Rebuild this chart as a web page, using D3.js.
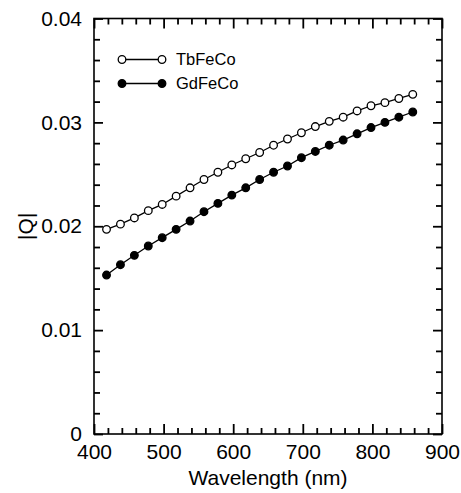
<!DOCTYPE html>
<html>
<head>
<meta charset="utf-8">
<script src="https://cdn.jsdelivr.net/npm/d3@7"></script>
<style>
  body { margin: 0; background: #fff; }
  svg { display: block; font-family: "Liberation Sans", Arial, sans-serif; }
</style>
</head>
<body>
<div id="chart"></div>
<script>
"use strict";

// wavelength of each sample (nm)
const wavelengths = [418, 438, 458, 478, 498, 518, 538, 558, 578, 598, 618, 638,
                     658, 678, 698, 718, 738, 758, 778, 798, 818, 838, 858];

// |Q|
const tbfeco = [0.0197, 0.0202, 0.0208, 0.0215, 0.0221, 0.0229, 0.0237, 0.0245,
                0.0252, 0.0259, 0.0265, 0.0271, 0.0278, 0.0284, 0.0290, 0.0296,
                0.0301, 0.0305, 0.0311, 0.0316, 0.0319, 0.0323, 0.0327];
const gdfeco = [0.0153, 0.0163, 0.0172, 0.0181, 0.0189, 0.0197, 0.0205, 0.0214,
                0.0222, 0.0230, 0.0237, 0.0245, 0.0252, 0.0258, 0.0266, 0.0272,
                0.0278, 0.0283, 0.0289, 0.0295, 0.0300, 0.0305, 0.0310];

const seriesNames = ["TbFeCo", "GdFeCo"];

// axis ticks
const xMajor = [400, 500, 600, 700, 800, 900];
const xMinor = [420, 440, 460, 480, 520, 540, 560, 580, 620, 640, 660, 680,
                720, 740, 760, 780, 820, 840, 860, 880];
const yMajor = [0, 0.01, 0.02, 0.03, 0.04];
const yMinor = [0.002, 0.004, 0.006, 0.008, 0.012, 0.014, 0.016, 0.018,
                0.022, 0.024, 0.026, 0.028, 0.032, 0.034, 0.036, 0.038];

const width = 461, height = 493;
const pLeft = 94, pRight = 442, pTop = 18.5, pBottom = 434;

const svg = d3.select("#chart").append("svg")
    .attr("width", width)
    .attr("height", height);

const x = d3.scaleLinear().domain([400, 900]).range([pLeft, pRight]);
const y = d3.scaleLinear().domain([0, 0.04]).range([pBottom, pTop]);

const yFmt = d => d === 0 ? "0" : d3.format(".2f")(d);

// draws one axis with inward ticks and optional labels
function addAxis(axisFn, scale, values, size, pos, labels, fmt, pad) {
    const ax = axisFn(scale)
        .tickValues(values)
        .tickSizeInner(-size)
        .tickSizeOuter(0)
        .tickPadding(pad || 10)
        .tickFormat(labels ? fmt : "");
    const g = svg.append("g").attr("transform", pos).call(ax);
    g.select(".domain").remove();
    g.selectAll(".tick line").attr("stroke", "#000").attr("stroke-width", 1.8);
    g.selectAll(".tick text")
        .attr("fill", "#000")
        .style("font-size", "21px");
    return g;
}

// bottom / top
addAxis(d3.axisBottom, x, xMajor, 10, `translate(0,${pBottom})`, true, d3.format("d"), 10);
addAxis(d3.axisBottom, x, xMinor, 6, `translate(0,${pBottom})`, false);
addAxis(d3.axisTop, x, xMajor, 10, `translate(0,${pTop})`, false);
addAxis(d3.axisTop, x, xMinor, 6, `translate(0,${pTop})`, false);
// left / right
addAxis(d3.axisLeft, y, yMajor, 9, `translate(${pLeft},0)`, true, yFmt, 12);
addAxis(d3.axisLeft, y, yMinor, 6, `translate(${pLeft},0)`, false);
addAxis(d3.axisRight, y, yMajor, 9, `translate(${pRight},0)`, false);
addAxis(d3.axisRight, y, yMinor, 6, `translate(${pRight},0)`, false);

// frame
svg.append("rect")
    .attr("x", pLeft).attr("y", pTop)
    .attr("width", pRight - pLeft).attr("height", pBottom - pTop)
    .attr("fill", "none")
    .attr("stroke", "#000")
    .attr("stroke-width", 1.6);

// axis titles
svg.append("text")
    .attr("x", (pLeft + pRight) / 2)
    .attr("y", 485)
    .attr("text-anchor", "middle")
    .style("font-size", "21px")
    .text("Wavelength (nm)");

svg.append("text")
    .attr("transform", `translate(33,${(pTop + pBottom) / 2}) rotate(-90)`)
    .attr("text-anchor", "middle")
    .style("font-size", "21px")
    .text("|Q|");

// series
const series = [
    { name: seriesNames[0], values: tbfeco, fill: "#fff" },
    { name: seriesNames[1], values: gdfeco, fill: "#000" }
];

const line = d3.line()
    .x((d, i) => x(wavelengths[i]))
    .y(d => y(d));

series.forEach(s => {
    svg.append("path")
        .datum(s.values)
        .attr("d", line)
        .attr("fill", "none")
        .attr("stroke", "#000")
        .attr("stroke-width", 1.3);

    svg.append("g").selectAll("circle")
        .data(s.values)
        .enter()
        .append("circle")
        .attr("cx", (d, i) => x(wavelengths[i]))
        .attr("cy", d => y(d))
        .attr("r", 3.8)
        .attr("fill", s.fill)
        .attr("stroke", "#000")
        .attr("stroke-width", 1.3);
});

// legend
const legend = svg.append("g");
series.forEach((s, i) => {
    const ly = 59.5 + i * 24;
    legend.append("line")
        .attr("x1", 122).attr("x2", 162)
        .attr("y1", ly).attr("y2", ly)
        .attr("stroke", "#000").attr("stroke-width", 1.3);
    [122, 162].forEach(cx => {
        legend.append("circle")
            .attr("cx", cx).attr("cy", ly).attr("r", 3.8)
            .attr("fill", s.fill)
            .attr("stroke", "#000").attr("stroke-width", 1.3);
    });
    legend.append("text")
        .attr("x", 176).attr("y", ly)
        .attr("dy", "0.36em")
        .style("font-size", "16.5px")
        .text(s.name);
});
</script>
</body>
</html>
